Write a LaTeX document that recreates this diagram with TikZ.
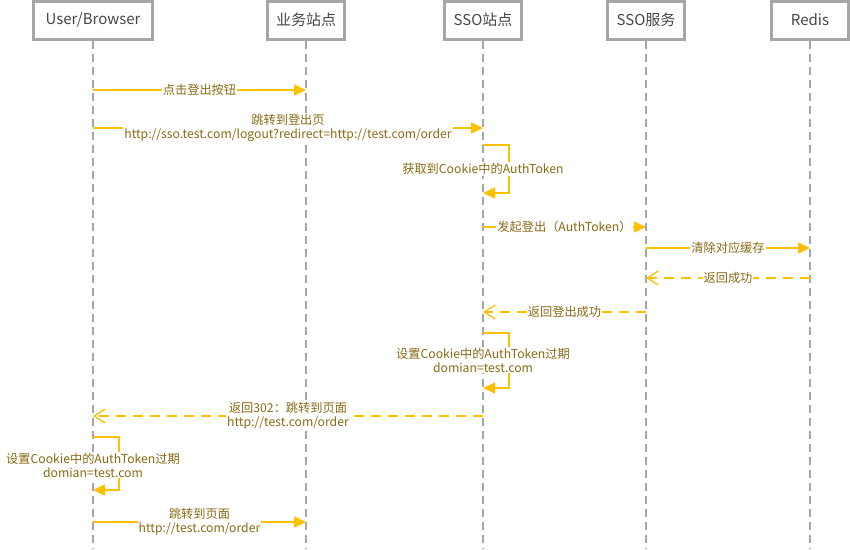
\documentclass[tikz,border=0pt]{standalone}
\usepackage{fontspec}
\setmainfont{Noto Sans CJK SC}
\usetikzlibrary{arrows.meta}
\definecolor{cgold}{HTML}{FFC000}
\definecolor{ctext}{HTML}{8A6A14}
\definecolor{cgrey}{HTML}{A6A6A6}
\tikzset{
  every picture/.style={x=1pt, y=-1pt, line width=1.5pt},
  actor/.style={draw=cgrey, fill=white, line width=3pt, minimum width=#1, minimum height=38pt,
    inner sep=0pt, text=black!72, font=\fontsize{15}{18}\selectfont},
  actor/.default=77pt,
  life/.style={draw=cgrey, dash pattern=on 8pt off 5pt, line width=1.5pt},
  msg/.style={draw=cgold, -{Triangle[length=12pt, width=11pt]}},
  ret/.style={draw=cgold, dash pattern=on 10pt off 7pt, -{Straight Barb[length=11pt, width=14pt, line width=1.3pt]}},
  lbl/.style={fill=white, text=ctext, font=\fontsize{12.2}{14}\selectfont, inner sep=1pt, align=center},
}

\begin{document}
\begin{tikzpicture}
  \useasboundingbox (0,0) rectangle (850,549);
  % participants
  \node[actor=119pt] (user) at (93,20) {User/Browser};
  \node[actor] (biz) at (306,20) {业务站点};
  \node[actor] (sso) at (483,20) {SSO站点};
  \node[actor] (svc) at (646,20) {SSO服务};
  \node[actor] (redis) at (810,20) {Redis};
  \foreach \p in {user, biz, sso, svc, redis}
    \draw[life] (\p.south) -- (\p |- 0,549);

  % logout request
  \draw[msg] (user |- 0,90) -- node[lbl] (m1) {点击登出按钮} (biz |- 0,90);
  \draw[msg] (user |- 0,128) -- node[lbl] (m2) {跳转到登出页\\http://sso.test.com/logout?redirect=http://test.com/order} (sso |- 0,128);
  \draw[msg] (sso |- 0,145) -- ++(26,0) -- ++(0,48) -- (sso |- 0,193);
  \node[lbl] (m3) at (sso |- 0,169) {获取到Cookie中的AuthToken};
  \draw[msg] (sso |- 0,227) -- node[lbl] (m4) {发起登出（AuthToken）} (svc |- 0,227);
  \draw[msg] (svc |- 0,248) -- node[lbl] (m5) {清除对应缓存} (redis |- 0,248);

  % replies
  \draw[ret] (redis |- 0,278) -- node[lbl] (m6) {返回成功} (svc |- 0,278);
  \draw[ret] (svc |- 0,312) -- node[lbl] (m7) {返回登出成功} (sso |- 0,312);
  \draw[msg] (sso |- 0,333) -- ++(26,0) -- ++(0,55) -- (sso |- 0,388);
  \node[lbl] (m8) at (sso |- 0,360) {设置Cookie中的AuthToken过期\\domian=test.com};
  \draw[ret] (sso |- 0,416) -- node[lbl] (m9) {返回302：跳转到页面\\http://test.com/order} (user |- 0,416);
  \draw[msg] (user |- 0,437) -- ++(26,0) -- ++(0,53) -- (user |- 0,490);
  \node[lbl] (m10) at (user |- 0,465) {设置Cookie中的AuthToken过期\\domian=test.com};
  \draw[msg] (user |- 0,522) -- node[lbl] (m11) {跳转到页面\\http://test.com/order} (biz |- 0,522);
\end{tikzpicture}
\end{document}
